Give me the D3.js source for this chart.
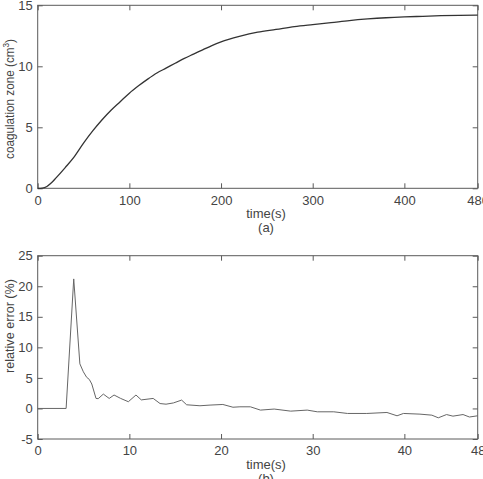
<!DOCTYPE html>
<html>
<head>
<meta charset="utf-8">
<script src="https://cdn.jsdelivr.net/npm/d3@7"></script>
<style>
  body { margin: 0; background: #fff; }
  text { font-family: "Liberation Sans", Arial, sans-serif; fill: #444; }
</style>
</head>
<body>
<svg id="chart" width="483" height="479"></svg>
<script>
// (a) coagulation zone vs time
var timeA = [0, 5, 10, 15, 20, 30, 40, 50, 60, 70, 80, 90, 100, 110, 120, 130, 140, 150,
  160, 170, 180, 190, 200, 220, 240, 260, 280, 300, 320, 340, 360, 380, 400, 420, 440, 460, 480];
var zoneA = [0, 0.02, 0.15, 0.45, 0.85, 1.7, 2.6, 3.7, 4.7, 5.6, 6.4, 7.1, 7.8, 8.4, 8.95, 9.45, 9.85, 10.25,
  10.65, 11.0, 11.35, 11.7, 12.0, 12.45, 12.8, 13.02, 13.25, 13.42, 13.58, 13.75, 13.88, 13.98, 14.05, 14.1, 14.15, 14.18, 14.2];

// (b) relative error vs time
var timeB = [0, 3.1, 3.93, 4.6, 4.98, 5.34, 5.63, 5.9, 6.36, 6.6, 7.16, 7.8, 8.33, 9.05, 9.89, 10.72, 11.3,
  12.6, 13.35, 14.0, 14.8, 15.7, 16.25, 17.7, 18.8, 20.2, 21.3, 22.06, 23.2, 24.3, 25.8, 27.6, 29.4, 30.5,
  32.3, 33.8, 35.9, 38.1, 39.2, 39.9, 41.7, 43.0, 43.7, 44.6, 45.3, 46.4, 47.1, 48];
var errorB = [0, 0, 21.2, 7.3, 6.0, 5.1, 4.75, 4.0, 1.64, 1.6, 2.35, 1.64, 2.2, 1.64, 1.1, 2.2, 1.4,
  1.64, 0.8, 0.7, 0.9, 1.37, 0.6, 0.44, 0.55, 0.65, 0.2, 0.27, 0.27, -0.27, -0.1, -0.44, -0.27, -0.55,
  -0.55, -0.82, -0.82, -0.66, -1.2, -0.82, -0.93, -1.1, -1.53, -1.0, -1.26, -1.0, -1.4, -1.2];

var ticksXA = [0, 100, 200, 300, 400, 480];
var ticksYA = [0, 5, 10, 15];
var ticksXB = [0, 10, 20, 30, 40, 48];
var ticksYB = [-5, 0, 5, 10, 15, 20, 25];

var svg = d3.select("#chart");
var left = 37.7, right = 477.7;
var fmt = function(d) { return String(d); };  // plain hyphen minus like the original

function panel(opts) {
  var x = d3.scaleLinear().domain(opts.xDomain).range([left, right]);
  var y = d3.scaleLinear().domain(opts.yDomain).range([opts.bottom, opts.top]);
  var g = svg.append("g");

  // inward ticks on all four sides
  var bx = g.append("g").attr("transform", "translate(0," + opts.bottom + ")")
    .call(d3.axisBottom(x).tickValues(opts.xTicks).tickSize(-5).tickPadding(7).tickFormat(fmt));
  var tx = g.append("g").attr("transform", "translate(0," + opts.top + ")")
    .call(d3.axisTop(x).tickValues(opts.xTicks).tickSize(-5).tickFormat(""));
  var ly = g.append("g").attr("transform", "translate(" + left + ",0)")
    .call(d3.axisLeft(y).tickValues(opts.yTicks).tickSize(-5).tickPadding(5).tickFormat(fmt));
  var ry = g.append("g").attr("transform", "translate(" + right + ",0)")
    .call(d3.axisRight(y).tickValues(opts.yTicks).tickSize(-5).tickFormat(""));
  [bx, tx, ly, ry].forEach(function(a) {
    a.select(".domain").remove();
    a.selectAll("line").attr("stroke", "#5a5a5a");
    a.selectAll("text").attr("font-size", 13).attr("fill", "#444")
      .attr("font-family", "'Liberation Sans', Arial, sans-serif");
  });

  g.append("rect")
    .attr("x", left).attr("y", opts.top)
    .attr("width", right - left).attr("height", opts.bottom - opts.top)
    .attr("fill", "none").attr("stroke", "#5a5a5a").attr("stroke-width", 1);

  var line = d3.line().curve(opts.curve)
    .x(function(d) { return x(d[0]); }).y(function(d) { return y(d[1]); });
  g.append("path")
    .datum(d3.zip(opts.xs, opts.ys))
    .attr("d", line)
    .attr("fill", "none")
    .attr("stroke", opts.color)
    .attr("stroke-width", opts.width);

  // x label + panel letter
  g.append("text").attr("x", 266).attr("y", opts.bottom + 30)
    .attr("text-anchor", "middle").attr("font-size", 13).text("time(s)");
  g.append("text").attr("x", 266).attr("y", opts.bottom + 44)
    .attr("text-anchor", "middle").attr("font-size", 13).text(opts.letter);

  // y label
  var yl = g.append("text")
    .attr("transform", "translate(14," + opts.yLabelMid + ") rotate(-90)")
    .attr("text-anchor", "middle").attr("font-size", 13)
    .attr("textLength", opts.yLabelLen).attr("lengthAdjust", "spacingAndGlyphs");
  return yl;
}

var ylA = panel({
  xDomain: [0, 480], yDomain: [0, 15], top: 5.3, bottom: 188.3,
  xTicks: ticksXA, yTicks: ticksYA, xs: timeA, ys: zoneA, curve: d3.curveMonotoneX,
  color: "#333", width: 1.3, letter: "(a)", yLabelMid: 99, yLabelLen: 120
});
ylA.append("tspan").text("coagulation zone (cm");
ylA.append("tspan").attr("dy", -5).attr("font-size", 9).text("3");
ylA.append("tspan").attr("dy", 5).text(")");

var ylB = panel({
  xDomain: [0, 48], yDomain: [-5, 25], top: 255.7, bottom: 439,
  xTicks: ticksXB, yTicks: ticksYB, xs: timeB, ys: errorB, curve: d3.curveLinear,
  color: "#666", width: 1, letter: "(b)", yLabelMid: 326, yLabelLen: 94
});
ylB.text("relative error (%)");
</script>
</body>
</html>
